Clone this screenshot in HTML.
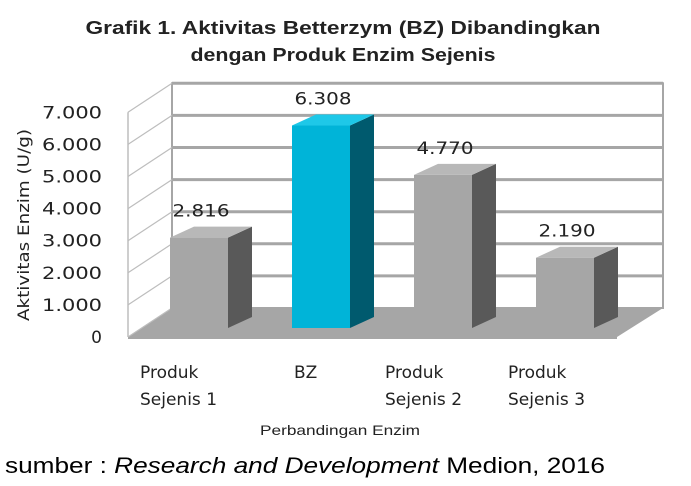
<!DOCTYPE html>
<html><head><meta charset="utf-8"><style>
body{margin:0;background:#fff;}
svg{display:block;font-family:"DejaVu Sans","Liberation Sans",sans-serif;}
</style></head><body>
<svg id="chart" width="691" height="486" viewBox="0 0 691 486" xmlns="http://www.w3.org/2000/svg">
<text x="343" y="34" text-anchor="middle" font-family="Liberation Sans, sans-serif" font-size="18" font-weight="bold" textLength="515" lengthAdjust="spacingAndGlyphs" fill="#222">Grafik 1. Aktivitas Betterzym (BZ) Dibandingkan</text>
<text x="343" y="61" text-anchor="middle" font-family="Liberation Sans, sans-serif" font-size="18" font-weight="bold" textLength="305" lengthAdjust="spacingAndGlyphs" fill="#222">dengan Produk Enzim Sejenis</text>
<g id="walls"></g>
<g id="bars"></g>
<g id="labels"></g>
<text transform="translate(29,225) rotate(-90)" text-anchor="middle" font-size="16" textLength="192" lengthAdjust="spacingAndGlyphs" fill="#222">Aktivitas Enzim (U/g)</text>
<text x="340" y="435" text-anchor="middle" font-family="Liberation Sans, sans-serif" font-size="14" textLength="160" lengthAdjust="spacingAndGlyphs" fill="#222">Perbandingan Enzim</text>
<text x="5" y="473" font-family="Liberation Sans, sans-serif" font-size="22" textLength="600" lengthAdjust="spacingAndGlyphs" fill="#000">sumber : <tspan font-style="italic">Research and Development</tspan> Medion, 2016</text>
</svg>
<script>
const categories = [["Produk","Sejenis 1"],["BZ",""],["Produk","Sejenis 2"],["Produk","Sejenis 3"]];
const values = [2816, 6308, 4770, 2190];
const valueLabels = ["2.816","6.308","4.770","2.190"];
const tickValues = [0,1000,2000,3000,4000,5000,6000,7000];
const tickLabels = ["0","1.000","2.000","3.000","4.000","5.000","6.000","7.000"];

const NS="http://www.w3.org/2000/svg";
const DX=44, DY=-29;
const frontY0=337, pxPer=32.1/1000;
function yFront(v){return frontY0 - v*pxPer;}
const barBase=328, barW=58, bdx=24, bdy=-11;
function yBar(v){return barBase - v*pxPer;}
function xBar(i){return 170 + i*122;}
function mk(tag,attrs,parent){const e=document.createElementNS(NS,tag);for(const k in attrs)e.setAttribute(k,attrs[k]);parent.appendChild(e);return e;}

const walls=document.getElementById('walls');
const bx0=128+DX, bx1=663;
const bw=mk('rect',{x:bx0,y:yFront(7000)+DY,width:bx1-bx0,height:(frontY0-yFront(7000)),fill:'#fff',stroke:'#a6a6a6','stroke-width':2},walls);


const fl=mk('polygon',{points:`128,${frontY0} ${bx0},${frontY0+DY} ${bx1},${frontY0+DY} 617,${frontY0} ${617},${frontY0+2} 128,${frontY0+2}`,fill:'#a6a6a6'},walls);


mk('line',{x1:128,y1:yFront(7000),x2:128,y2:frontY0,stroke:'#bdbdbd','stroke-width':1.5},walls);
tickValues.forEach((v,i)=>{
  const y=yFront(v);
  if(v>0){
    const g=mk('line',{x1:bx0,y1:y+DY,x2:bx1,y2:y+DY,stroke:'#a6a6a6','stroke-width':3},walls);
    
    
  }
  const s=mk('line',{x1:128,y1:y,x2:bx0,y2:y+DY,stroke:'#bdbdbd','stroke-width':1.2},walls);
  
  
  const attrs={x:102,y:y+6,'text-anchor':'end','font-size':17,fill:'#222'};
  if(tickLabels[i].length>1){attrs.textLength=60;attrs.lengthAdjust='spacingAndGlyphs';}
  const t=mk('text',attrs,walls);
  
  
  t.textContent=tickLabels[i];
});

const bars=document.getElementById('bars');
const labels=document.getElementById('labels');
values.forEach((v,i)=>{
  const x=xBar(i), yt=yBar(v);
  const blue=i===1;
  const cf=blue?'#00b4d8':'#a6a6a6', cs=blue?'#005a6e':'#595959', ct=blue?'#1ec8e8':'#b8b8b8';
  const g=mk('g',{},bars);
  
  
  mk('rect',{x:x,y:yt,width:barW,height:barBase-yt,fill:cf},g);
  mk('polygon',{points:`${x+barW},${yt} ${x+barW+bdx},${yt+bdy} ${x+barW+bdx},${barBase+bdy} ${x+barW},${barBase}`,fill:cs},g);
  mk('polygon',{points:`${x},${yt} ${x+bdx},${yt+bdy} ${x+barW+bdx},${yt+bdy} ${x+barW},${yt}`,fill:ct},g);
  const t=mk('text',{x:x+barW/2+2,y:yt+bdy-10,'text-anchor':'middle','font-size':17,textLength:57,lengthAdjust:'spacingAndGlyphs',fill:'#222'},labels);
  
  
  t.textContent=valueLabels[i];
  const lx=[140,294,385,508][i];
  categories[i].forEach((line,j)=>{
    if(!line)return;
    const c=mk('text',{x:lx,y:378+j*27,'font-size':17,fill:'#222'},labels);
    
    
    c.textContent=line;
  });
});
</script>
</body></html>
